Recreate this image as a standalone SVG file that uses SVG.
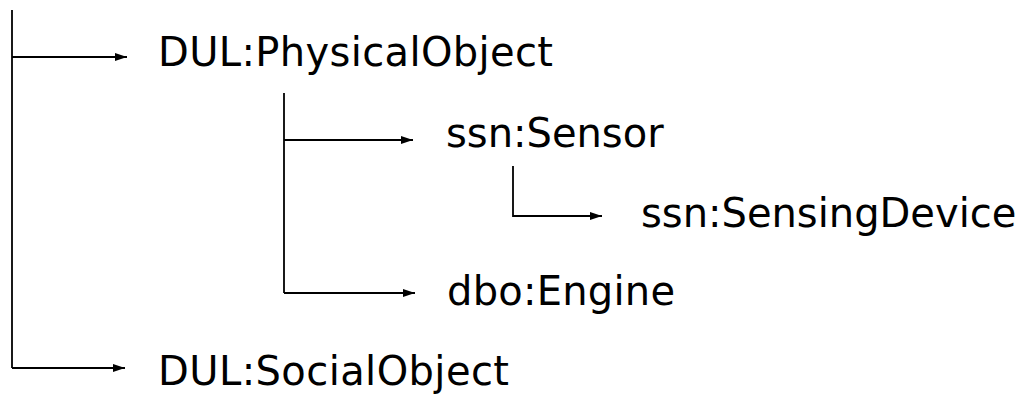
<svg xmlns="http://www.w3.org/2000/svg" width="1024" height="394" viewBox="0 0 1024 394">
  <style>
    .label { font-family: "DejaVu Sans", Verdana, sans-serif; font-size: 40px; fill: #000; }
    .edge { fill: none; stroke: #000; stroke-width: 1.8; }
  </style>
  <defs>
    <marker id="arrow" markerUnits="userSpaceOnUse" markerWidth="14" markerHeight="10" refX="13" refY="5" orient="auto">
      <path d="M1,1 L13,5 L1,9 Z" fill="#000"/>
    </marker>
  </defs>
  <rect width="1024" height="394" fill="#fff"/>

  <!-- tree connectors -->
  <g id="connectors">
    <path class="edge" d="M12,10 V368"/>
    <path class="edge" d="M12,57 H127" marker-end="url(#arrow)"/>
    <path class="edge" d="M12,368 H125" marker-end="url(#arrow)"/>
    <path class="edge" d="M284,93 V293"/>
    <path class="edge" d="M284,140 H413" marker-end="url(#arrow)"/>
    <path class="edge" d="M284,293 H415" marker-end="url(#arrow)"/>
    <path class="edge" d="M513,166 V216 H602" marker-end="url(#arrow)"/>
  </g>

  <!-- class nodes -->
  <g id="node-physical-object">
    <text class="label" x="158" y="66" textLength="395">DUL:PhysicalObject</text>
  </g>
  <g id="node-sensor">
    <text class="label" x="446" y="147">ssn:Sensor</text>
  </g>
  <g id="node-sensing-device">
    <text class="label" x="641" y="227">ssn:SensingDevice</text>
  </g>
  <g id="node-engine">
    <text class="label" x="447" y="305" textLength="228">dbo:Engine</text>
  </g>
  <g id="node-social-object">
    <text class="label" x="158" y="385" textLength="351">DUL:SocialObject</text>
  </g>
</svg>
